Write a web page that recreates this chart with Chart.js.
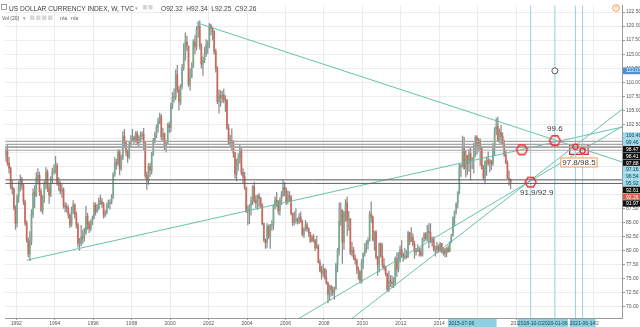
<!DOCTYPE html>
<html>
<head>
<meta charset="utf-8">
<title>US Dollar Currency Index</title>
<script src="https://cdn.jsdelivr.net/npm/chart.js@4.4.0/dist/chart.umd.min.js"></script>
<style>
  html, body { margin: 0; padding: 0; background: #fff; }
  canvas { display: block; }
</style>
</head>
<body>
<canvas id="dxyChart" width="640" height="327"></canvas>
<script>
// 월봉 데이터 (1991년 6월 ~ 2017년 9월), 시가는 전월 종가
const startYear = 1991;
const startMonth = 5; // 0 = 1월
const firstOpen = 96.8;

const closes = [
  97.9, 95.6, 94.7, 91.4, 91.0, 87.6, 84.9,
  89.6, 91.4, 92.7, 91.6, 88.7, 84.9, 81.8, 79.4, 81.7, 86.4, 90.3, 89.9,
  92.9, 93.4, 90.5, 87.2, 89.4, 91.9, 94.0, 91.2, 89.9, 92.9, 94.1, 94.3,
  95.2, 92.1, 91.6, 90.6, 90.9, 88.0, 87.8, 87.5, 86.3, 84.6, 87.1, 88.1,
  86.4, 84.6, 81.3, 81.3, 82.5, 82.2, 83.2, 86.1, 84.8, 83.9, 84.8, 85.7,
  88.1, 87.0, 87.6, 88.8, 88.7, 88.3, 86.3, 86.7, 88.0, 88.4, 88.6, 89.5,
  93.6, 95.6, 95.5, 97.6, 94.6, 96.5, 100.4, 99.2, 97.6, 96.7, 98.9, 99.7,
  100.2, 99.7, 100.9, 99.2, 99.9, 100.5, 100.7, 99.2, 93.4, 92.4, 95.0, 94.2,
  97.2, 99.6, 100.6, 101.9, 103.0, 103.9, 100.3, 100.8, 98.6, 99.1, 102.4, 101.9,
  105.9, 107.3, 107.4, 111.4, 108.7, 106.5, 109.1, 112.6, 114.2, 117.2, 116.5, 109.6,
  110.9, 112.9, 117.2, 116.3, 119.5, 120.0, 116.5, 113.2, 113.9, 115.1, 116.6, 116.8,
  120.1, 119.6, 119.0, 115.5, 112.5, 106.6, 107.6, 107.2, 107.7, 106.9, 106.8, 101.8,
  99.1, 99.6, 99.3, 97.4, 93.6, 95.3, 96.5, 97.9, 93.9, 93.2, 91.2, 86.9,
  87.4, 88.0, 88.9, 91.4, 88.9, 88.5, 89.8, 89.3, 88.1, 84.8, 81.9, 81.4,
  84.3, 82.5, 84.5, 84.6, 88.0, 89.0, 88.7, 87.1, 88.9, 89.9, 91.3, 90.8,
  88.7, 89.7, 89.6, 86.6, 85.0, 85.5, 85.5, 85.2, 86.0, 85.2, 82.9, 83.7,
  84.6, 83.9, 83.2, 81.7, 82.5, 81.8, 80.5, 80.9, 77.9, 76.4, 76.0, 76.7,
  75.2, 74.3, 72.2, 73.6, 73.0, 72.5, 73.2, 77.5, 79.9, 85.2, 87.2, 81.5,
  86.8, 88.5, 85.4, 85.7, 79.6, 80.1, 78.7, 78.3, 76.7, 76.4, 74.7, 77.9,
  79.5, 80.4, 81.2, 81.8, 86.5, 86.0, 81.9, 83.3, 78.8, 77.5, 81.2, 79.0,
  77.4, 76.9, 75.8, 73.0, 74.6, 74.3, 74.1, 74.3, 78.6, 76.7, 78.4, 80.2,
  79.3, 78.8, 79.0, 78.8, 83.2, 81.6, 82.4, 81.2, 79.9, 79.8, 80.2, 79.8,
  79.2, 82.2, 82.9, 82.1, 83.3, 83.2, 81.5, 82.1, 80.2, 80.2, 80.7, 80.0,
  81.3, 79.7, 80.1, 79.5, 80.4, 79.8, 81.5, 82.7, 85.9, 87.0, 88.4, 90.3,
  94.8, 95.3, 98.4, 94.6, 96.9, 95.5, 97.3, 96.1, 96.4, 97.0, 100.2, 98.6,
  99.6, 98.2, 94.6, 93.0, 95.9, 96.1, 95.5, 96.0, 95.5, 98.4, 101.5, 102.2,
  99.5, 101.1, 100.3, 99.0, 97.0, 95.6, 92.9, 92.7, 92.26
];

const highs = [
  98.6, 98.9, 96.6, 94.9, 92.5, 91.2, 88.0,
  90.0, 92.3, 93.5, 93.1, 91.9, 89.0, 85.3, 82.3, 83.4, 87.3, 91.0, 91.6,
  93.9, 94.6, 94.0, 91.0, 89.8, 92.5, 94.8, 94.4, 92.0, 93.2, 94.7, 95.3,
  96.8, 95.6, 93.0, 92.3, 91.9, 91.2, 88.6, 88.4, 88.0, 86.6, 87.8, 88.9,
  88.4, 86.9, 85.0, 82.2, 84.5, 83.7, 84.0, 87.9, 86.7, 85.2, 85.5, 86.2,
  88.6, 88.5, 88.2, 89.4, 89.9, 89.3, 88.6, 87.2, 88.5, 89.0, 89.1, 90.0,
  93.9, 96.6, 96.3, 98.0, 97.9, 97.0, 101.2, 101.6, 99.6, 98.0, 99.3, 100.5,
  101.6, 100.4, 101.2, 101.3, 100.5, 101.1, 101.2, 101.8, 99.3, 94.0, 95.5, 95.6,
  97.5, 100.0, 101.1, 102.4, 103.6, 104.5, 104.3, 101.8, 101.0, 99.6, 102.7, 102.9,
  106.3, 108.2, 108.8, 112.2, 113.0, 109.3, 109.6, 113.2, 116.9, 118.8, 118.2, 116.4,
  112.4, 113.5, 117.6, 118.3, 119.9, 120.8, 121.0, 116.9, 114.5, 116.2, 117.6, 117.4,
  120.5, 120.3, 119.8, 119.2, 115.9, 112.8, 108.6, 108.5, 108.4, 108.8, 107.6, 106.9,
  102.5, 100.6, 101.7, 99.6, 97.5, 96.3, 97.3, 98.8, 98.4, 94.6, 94.0, 91.3,
  88.0, 88.2, 89.6, 91.6, 92.2, 89.8, 89.9, 90.2, 89.5, 88.4, 84.9, 82.1,
  84.8, 84.6, 84.7, 85.4, 88.2, 89.6, 90.4, 88.9, 89.4, 90.5, 92.6, 92.1,
  91.2, 90.6, 90.5, 89.8, 86.7, 86.9, 87.5, 85.8, 86.6, 86.9, 85.5, 84.1,
  85.4, 85.0, 84.1, 83.3, 82.7, 82.9, 82.0, 82.6, 81.1, 78.4, 77.2, 77.6,
  76.9, 76.6, 74.4, 73.9, 73.8, 73.6, 73.5, 77.8, 80.4, 88.5, 88.5, 87.3,
  87.0, 89.1, 89.6, 87.0, 85.6, 81.5, 80.6, 79.2, 78.5, 77.1, 76.3, 78.4,
  79.6, 81.3, 81.8, 82.3, 87.0, 88.7, 86.2, 83.5, 83.6, 79.0, 81.4, 81.4,
  81.2, 78.6, 77.2, 76.0, 76.4, 75.6, 75.5, 75.2, 78.9, 79.6, 79.7, 80.8,
  81.8, 79.6, 80.4, 80.0, 83.5, 83.2, 84.1, 83.0, 81.7, 80.4, 81.1, 80.5,
  80.5, 82.3, 83.2, 83.2, 84.5, 84.8, 84.8, 82.4, 82.4, 80.8, 81.5, 81.1,
  81.5, 81.3, 80.6, 80.4, 80.6, 80.9, 81.6, 82.9, 86.0, 87.1, 88.5, 90.5,
  95.5, 95.3, 100.4, 100.2, 97.8, 97.0, 98.1, 98.3, 96.6, 99.1, 100.5, 100.5,
  100.0, 99.9, 98.6, 95.2, 96.0, 96.7, 97.6, 96.3, 96.1, 99.1, 101.9, 103.6,
  103.8, 101.7, 102.3, 101.0, 99.7, 97.8, 96.0, 94.2, 92.8
];

const lows = [
  95.9, 95.2, 93.8, 91.0, 90.1, 87.2, 83.8,
  84.2, 88.6, 90.6, 90.9, 88.2, 84.5, 81.5, 78.9, 78.2, 81.0, 85.9, 87.6,
  89.6, 91.9, 89.8, 86.9, 86.5, 88.6, 91.0, 90.5, 88.4, 89.6, 92.0, 93.6,
  93.8, 91.6, 90.7, 90.1, 89.5, 87.5, 86.9, 86.8, 85.8, 84.1, 84.3, 86.6,
  85.8, 84.0, 80.6, 80.05, 80.9, 81.3, 81.7, 82.9, 83.8, 83.2, 83.5, 84.6,
  85.6, 86.3, 86.8, 87.3, 88.2, 87.7, 85.8, 86.0, 86.5, 87.6, 87.4, 88.3,
  89.3, 93.2, 94.5, 95.2, 93.5, 94.3, 96.2, 98.3, 96.9, 95.7, 96.4, 98.5,
  99.4, 98.9, 99.3, 98.8, 98.6, 99.3, 99.8, 98.0, 92.9, 90.9, 91.8, 93.2,
  93.6, 96.9, 99.2, 100.1, 101.1, 102.6, 99.7, 99.4, 98.0, 97.6, 98.9, 101.0,
  101.2, 105.3, 106.5, 106.9, 108.2, 105.0, 106.0, 108.8, 112.1, 113.9, 115.6, 109.2,
  108.6, 110.8, 112.6, 115.1, 115.7, 118.0, 115.9, 112.5, 111.2, 113.5, 114.6, 115.1,
  116.1, 118.4, 117.5, 115.0, 111.8, 106.2, 104.5, 105.7, 106.4, 106.3, 104.8, 101.6,
  98.9, 98.6, 97.9, 96.6, 92.9, 92.4, 94.3, 95.6, 93.5, 92.1, 90.9, 86.8,
  84.6, 84.8, 86.3, 88.2, 88.5, 87.6, 87.3, 87.8, 87.6, 84.6, 81.6, 80.4,
  80.5, 82.1, 80.4, 83.6, 83.8, 87.4, 87.8, 86.5, 86.3, 88.2, 89.6, 89.8,
  88.2, 88.3, 88.8, 86.3, 84.4, 84.6, 84.9, 84.7, 84.8, 85.0, 82.6, 82.3,
  83.5, 83.4, 82.5, 81.4, 81.6, 81.5, 80.0, 80.4, 77.8, 76.2, 74.9, 75.4,
  74.9, 74.0, 70.7, 71.1, 71.9, 72.0, 71.3, 73.1, 76.2, 79.2, 84.5, 77.7,
  80.2, 85.2, 82.7, 83.6, 79.3, 79.0, 78.4, 77.6, 75.9, 74.9, 74.2, 74.2,
  76.8, 79.0, 79.7, 80.3, 81.7, 85.0, 81.7, 80.1, 78.5, 75.6, 76.2, 78.8,
  77.0, 76.5, 75.5, 72.8, 72.7, 73.6, 73.4, 73.4, 73.8, 75.4, 76.2, 77.9,
  78.8, 78.1, 78.5, 78.6, 78.9, 81.0, 81.6, 80.8, 78.6, 79.2, 79.9, 79.0,
  79.0, 79.0, 81.6, 81.8, 81.7, 80.5, 81.4, 80.8, 79.9, 79.0, 79.6, 79.7,
  79.8, 79.6, 79.2, 78.9, 78.9, 79.7, 79.8, 81.4, 82.6, 84.5, 86.5, 87.6,
  90.1, 93.2, 94.9, 94.5, 93.1, 93.5, 94.1, 92.6, 94.6, 93.8, 96.8, 97.2,
  97.7, 95.2, 94.5, 92.6, 91.9, 93.4, 95.2, 94.0, 94.4, 95.2, 96.9, 100.6,
  99.4, 99.2, 99.0, 98.8, 96.8, 95.5, 92.8, 91.6, 91.0
];

// 추세선 (연도, 지수) 시작점/끝점
const trendStarts = [[2001.38, 120.6], [1992.55, 78.3], [2006.0, 66.5], [2009.0, 66.7]];
const trendEnds = [[2023.5, 95.8], [2023.5, 102.0], [2023.5, 102.1], [2023.5, 105.15]];

// 수평 지지/저항선
const levelLight = [99.46, 98.94, 98.47, 98.41, 97.88];
const levelDark = [92.61, 91.97];

// 세로 날짜선
const dateLines = [2018.75, 2020.01, 2021.08, 2021.45];

// 표시 지점
const hexPoints = [[2018.29, 97.95], [2020.01, 99.6], [2018.75, 92.2]];
const smallCircles = [[2021.08, 98.5], [2021.45, 97.8]];
const boxCorners = [[2020.78, 98.88], [2021.74, 97.13]];
const markerTarget = [2020.01, 112.03];

// 오른쪽 가격 태그
const tagValues = [100.48, 99.46, 98.47, 98.41, 97.88, 97.16, 96.54, 95.92, 92.61, 92.26, 91.97];
const tagKinds = ['draw', 'draw', 'level', 'level', 'level', 'draw', 'draw', 'draw', 'level', 'last', 'level'];

// 하단 날짜 태그
const dateTags = [
  { from: 2014.45, to: 2016.98, at: 2015.15, text: '2015-07-06' },
  { from: 2018.08, to: 2019.42, at: 2018.75, text: '2018-10-01' },
  { from: 2019.35, to: 2020.68, at: 2020.01, text: '2020-01-06' },
  { from: 2020.78, to: 2022.12, at: 2021.45, text: '2021-06-14' }
];

const upColor = 'rgba(120, 172, 142, 0.9)';
const downColor = 'rgba(214, 96, 80, 0.85)';
const teal = 'rgba(84, 188, 165, 0.9)';
const cyanLine = 'rgba(150, 212, 228, 1)';
const fontName = '"Liberation Sans", Arial, sans-serif';

// 캔들 좌표 만들기
const opens = [];
const bodies = [];
const wicks = [];
closes.forEach((c, i) => {
  const o = i === 0 ? firstOpen : closes[i - 1];
  opens.push(o);
  const t = startYear + (startMonth + i + 0.5) / 12;
  bodies.push({ x: t, y: [o, c] });
  wicks.push({ x: t, y: [lows[i], highs[i]] });
});

function candleColor(ctx) {
  const i = ctx.dataIndex;
  return closes[i] >= opens[i] ? upColor : downColor;
}

// 빨간 육각형 포인트 이미지
function makeHexagon(r, color) {
  const c = document.createElement('canvas');
  const s = Math.ceil(r * 2 + 4);
  c.width = s;
  c.height = s;
  const g = c.getContext('2d');
  g.strokeStyle = color;
  g.lineWidth = 1.4;
  g.beginPath();
  for (let k = 0; k < 6; k++) {
    const a = Math.PI / 3 * k;
    const px = s / 2 + r * Math.cos(a);
    const py = s / 2 + r * Math.sin(a);
    if (k === 0) g.moveTo(px, py); else g.lineTo(px, py);
  }
  g.closePath();
  g.stroke();
  return c;
}
const hexImage = makeHexagon(5.5, '#e8262b');

const xMin = 1991.43;
const xMax = 2023.5;
const yMin = 68.0;
const yMax = 123.7;

function lineSet(points, color, width) {
  return {
    type: 'line',
    data: points.map(p => ({ x: p[0], y: p[1] })),
    borderColor: color,
    borderWidth: width,
    pointRadius: 0,
    fill: false,
    tension: 0,
    order: 1
  };
}

const datasets = [
  {
    type: 'bar',
    data: wicks,
    backgroundColor: 'rgba(130, 130, 132, 0.9)',
    barThickness: 0.6,
    grouped: false,
    order: 4
  },
  {
    type: 'bar',
    data: bodies,
    backgroundColor: candleColor,
    barThickness: 1.1,
    minBarLength: 1,
    grouped: false,
    order: 3
  }
];

levelLight.forEach(v => datasets.push(lineSet([[xMin, v], [xMax, v]], 'rgba(165, 165, 165, 1)', 1.2)));
levelDark.forEach(v => datasets.push(lineSet([[xMin, v], [xMax, v]], 'rgba(95, 95, 95, 1)', 1)));
dateLines.forEach(t => datasets.push(lineSet([[t, yMin], [t, yMax]], cyanLine, 1)));
trendStarts.forEach((p, i) => datasets.push(lineSet([p, trendEnds[i]], teal, 1)));

// 빨간 박스
const [b0, b1] = boxCorners;
datasets.push(lineSet([[b0[0], b0[1]], [b1[0], b0[1]], [b1[0], b1[1]], [b0[0], b1[1]], [b0[0], b0[1]]], '#e8262b', 1.3));

datasets.push({
  type: 'line',
  data: hexPoints.map(p => ({ x: p[0], y: p[1] })),
  showLine: false,
  pointStyle: hexImage,
  order: 0
});
datasets.push({
  type: 'line',
  data: smallCircles.map(p => ({ x: p[0], y: p[1] })),
  showLine: false,
  pointStyle: 'circle',
  pointRadius: 2.6,
  pointBorderColor: '#e8262b',
  pointBackgroundColor: 'rgba(255,255,255,0)',
  pointBorderWidth: 1.3,
  order: 0
});
datasets.push({
  type: 'line',
  data: [{ x: markerTarget[0], y: markerTarget[1] }],
  showLine: false,
  pointStyle: 'circle',
  pointRadius: 3,
  pointBorderColor: '#555',
  pointBackgroundColor: '#fff',
  pointBorderWidth: 1,
  order: 0
});

// 텍스트, 가격 태그, 상단 범례 그리기
const overlayPlugin = {
  id: 'overlay',
  afterDatasetsDraw(chart) {
    const { ctx, scales: { x, y } } = chart;
    ctx.save();
    ctx.font = '8px ' + fontName;
    ctx.fillStyle = '#3a3a3a';
    ctx.textAlign = 'center';
    ctx.textBaseline = 'middle';

    const p1 = hexPoints[1];
    ctx.fillText('99.6', x.getPixelForValue(p1[0]), y.getPixelForValue(p1[1]) - 12);

    const p2 = hexPoints[2];
    ctx.fillText('91.9/92.9', x.getPixelForValue(p2[0]) + 6, y.getPixelForValue(p2[1]) + 11);

    // 주황 박스 안의 목표가
    const bx = (x.getPixelForValue(b0[0]) + x.getPixelForValue(b1[0])) / 2;
    const by = y.getPixelForValue(b1[1]) + 7.5;
    const label = '97.8/98.5';
    const w = ctx.measureText(label).width + 4;
    ctx.fillStyle = '#fff';
    ctx.fillRect(bx - w / 2, by - 4.5, w, 9);
    ctx.strokeStyle = '#f39a4c';
    ctx.lineWidth = 1;
    ctx.strokeRect(bx - w / 2 + 0.5, by - 4.5 + 0.5, w - 1, 9);
    ctx.fillStyle = '#3a3a3a';
    ctx.fillText(label, bx, by + 0.5);
    ctx.restore();
  },
  afterDraw(chart) {
    const { ctx, scales: { x, y }, chartArea } = chart;
    ctx.save();

    // 오른쪽 가격 태그 (겹치면 아래로 밀기)
    ctx.font = '5px ' + fontName;
    ctx.textBaseline = 'middle';
    ctx.textAlign = 'left';
    const tagH = 6.8;
    let prev = -Infinity;
    tagValues.forEach((v, i) => {
      const cy = Math.max(y.getPixelForValue(v), prev + tagH);
      prev = cy;
      const kind = tagKinds[i];
      let bg = '#9fd8e8', fg = '#16495e';
      if (kind === 'level') { bg = '#111'; fg = '#fff'; }
      if (kind === 'last') { bg = '#e0584c'; fg = '#fff'; }
      ctx.fillStyle = bg;
      ctx.fillRect(chartArea.right + 1, cy - tagH / 2, 640 - chartArea.right, tagH - 0.4);
      ctx.fillStyle = fg;
      ctx.fillText(v.toFixed(2), chartArea.right + 4, cy + 0.3);
    });
    const ty = y.getPixelForValue(markerTarget[1]);
    ctx.fillStyle = '#4f8fd0';
    ctx.fillRect(chartArea.right + 1, ty - tagH / 2, 640 - chartArea.right, tagH);
    ctx.fillStyle = '#fff';
    ctx.fillText(markerTarget[1].toFixed(2), chartArea.right + 4, ty + 0.3);

    // 하단 날짜 태그
    const tagTop = chartArea.bottom + 1;
    dateTags.forEach(tag => {
      const left = x.getPixelForValue(tag.from);
      const right = x.getPixelForValue(tag.to);
      ctx.fillStyle = '#8fd0e0';
      ctx.fillRect(left, tagTop, right - left, 8);
      ctx.fillStyle = '#1d3f4d';
      ctx.textAlign = 'center';
      ctx.fillText(tag.text, x.getPixelForValue(tag.at), tagTop + 4.3);
    });

    // 상단 범례
    ctx.textAlign = 'left';
    ctx.textBaseline = 'alphabetic';
    ctx.strokeStyle = '#888';
    ctx.lineWidth = 0.8;
    ctx.strokeRect(1.5, 4.5, 5, 5);
    ctx.font = '6.6px ' + fontName;
    ctx.fillStyle = '#3c3c3c';
    ctx.fillText('US DOLLAR CURRENCY INDEX, W, TVC', 9, 10.5);
    ctx.fillStyle = '#999';
    ctx.font = '5px ' + fontName;
    ctx.fillText('\u25BE', 135, 10);
    ctx.fillStyle = '#d4d4d4';
    ctx.fillRect(143, 5, 4, 4.5);
    ctx.fillRect(148.5, 5, 4, 4.5);
    ctx.font = '6.6px ' + fontName;
    ctx.fillStyle = '#444';
    ctx.fillText('O92.32  H92.34  L92.25  C92.26', 161, 10.5);

    ctx.font = '5px ' + fontName;
    ctx.fillStyle = '#555';
    ctx.fillText('Vol (20)', 2, 19.5);
    ctx.fillStyle = '#999';
    ctx.fillText('\u25BE', 23, 19.5);
    ctx.fillStyle = '#d8d8d8';
    [30, 36, 42, 48].forEach(px => ctx.fillRect(px, 15.5, 4.5, 4.5));
    ctx.fillStyle = '#555';
    ctx.fillText('n/a   n/a', 60, 19.5);

    // 오른쪽 위 알림 아이콘
    ctx.strokeStyle = '#f29a4a';
    ctx.lineWidth = 1;
    ctx.beginPath();
    ctx.arc(616, 8, 3.3, 0, Math.PI * 2);
    ctx.stroke();
    ctx.beginPath();
    ctx.moveTo(616, 6);
    ctx.lineTo(616, 8.5);
    ctx.stroke();
    ctx.restore();
  }
};

const dxyChart = document.getElementById('dxyChart');

new Chart(dxyChart, {
  type: 'bar',
  data: { datasets: datasets },
  options: {
    responsive: false,
    animation: false,
    devicePixelRatio: 1,
    layout: { padding: 0 },
    plugins: {
      legend: { display: false },
      tooltip: { enabled: false }
    },
    scales: {
      x: {
        type: 'linear',
        min: xMin,
        max: xMax,
        offset: false,
        grid: { color: '#ececec', lineWidth: 1, offset: false, tickLength: 2, tickColor: '#999' },
        border: { color: '#9a9a9a' },
        ticks: {
          stepSize: 2,
          includeBounds: false,
          maxRotation: 0,
          autoSkip: false,
          padding: 1,
          color: '#555',
          font: { size: 5, family: fontName },
          callback: v => String(Math.round(v))
        },
        afterFit: scale => { scale.height = 9; }
      },
      y: {
        type: 'linear',
        position: 'right',
        min: yMin,
        max: yMax,
        grid: { color: '#ececec', lineWidth: 1, tickLength: 3, tickColor: '#999' },
        border: { color: '#9a9a9a' },
        ticks: {
          stepSize: 2.5,
          includeBounds: false,
          padding: 1,
          color: '#555',
          font: { size: 5, family: fontName },
          callback: v => v.toFixed(2)
        },
        afterFit: scale => { scale.width = 18; }
      }
    }
  },
  plugins: [overlayPlugin]
});
</script>
</body>
</html>
